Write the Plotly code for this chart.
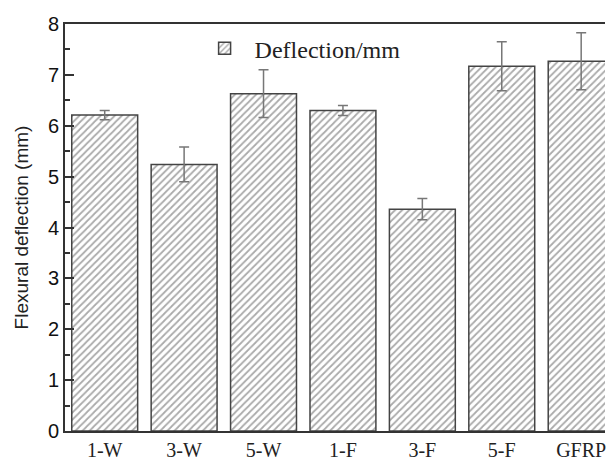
import plotly.graph_objects as go

categories = ["1-W", "3-W", "5-W", "1-F", "3-F", "5-F", "GFRP"]
deflection = [6.21, 5.24, 6.63, 6.30, 4.36, 7.17, 7.27]
errors = [0.09, 0.34, 0.47, 0.10, 0.21, 0.48, 0.56]
y_ticks = [0, 1, 2, 3, 4, 5, 6, 7, 8]

fig = go.Figure()
fig.add_trace(go.Bar(
    x=categories, y=deflection, name="Deflection/mm",
    marker=dict(color="white", line=dict(color="#444", width=1.5),
                pattern=dict(shape="/", fgcolor="#555", bgcolor="white", size=5, solidity=0.35)),
    error_y=dict(type="data", array=errors, color="#777", thickness=1.5, width=5),
    showlegend=True,
))

fig.update_layout(
    width=606, height=461,
    margin=dict(l=65, r=0, t=24, b=27),
    plot_bgcolor="white", paper_bgcolor="white",
    bargap=0.17,
    showlegend=True,
    legend=dict(x=0.24, y=0.995, xanchor="left", yanchor="top",
                font=dict(family="Liberation Serif", size=24, color="#222"),
                bgcolor="rgba(0,0,0,0)", itemwidth=50),
    xaxis=dict(range=[-0.5, 6.3], showline=True, linecolor="#333", linewidth=2, mirror=True,
               ticks="", tickfont=dict(family="Liberation Serif", size=20, color="#222"),
               showgrid=False),
    yaxis=dict(range=[0, 8], tickvals=y_ticks, showline=True, linecolor="#333", linewidth=2,
               ticks="inside", ticklen=9, tickwidth=2, tickcolor="#333",
               minor=dict(ticks="inside", ticklen=5, tickwidth=1.5, tickcolor="#333", dtick=0.5),
               tickfont=dict(family="Arial", size=20, color="#111"),
               showgrid=False, zeroline=False,
               title=dict(text="Flexural deflection (mm)", font=dict(family="Arial", size=19, color="#222"),
                          standoff=14)),
)

fig.write_html("out.html", config={"displayModeBar": False},
               post_script="document.body.style.margin='0';document.body.style.overflow='hidden';")
